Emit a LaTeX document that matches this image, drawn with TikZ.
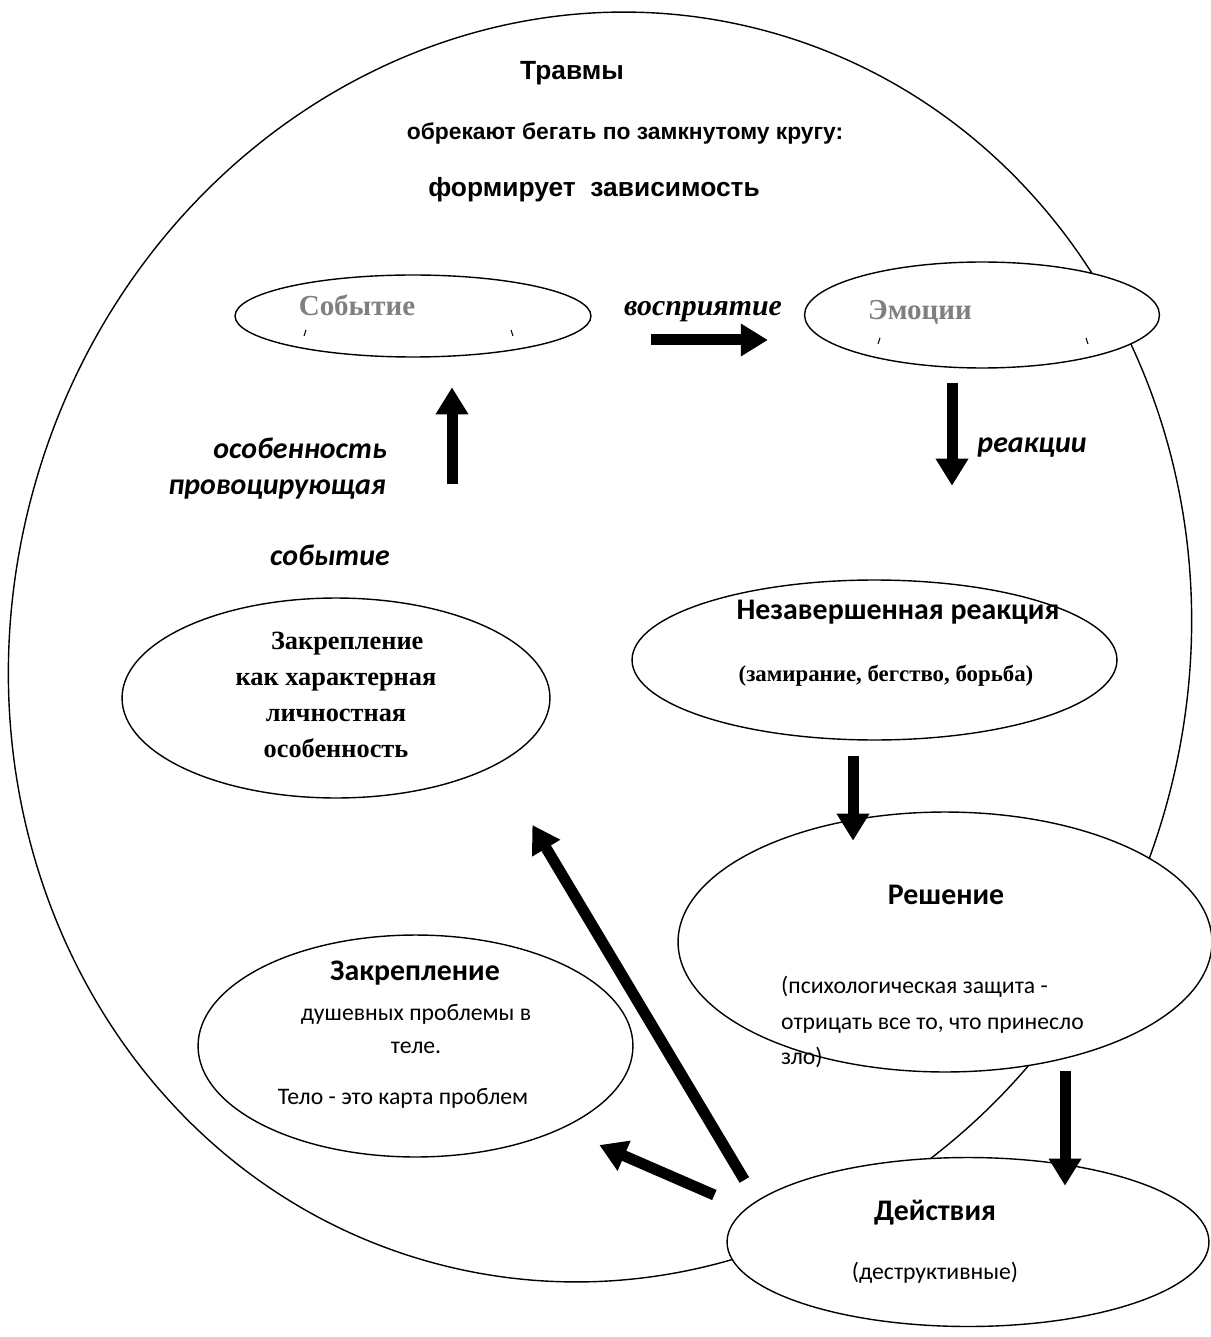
\documentclass[tikz,border=0pt]{standalone}
\usepackage{fontspec}
\setmainfont{Liberation Serif}
\newfontfamily\arialfont{Liberation Sans}
\newfontfamily\calibrifont{Carlito}
\usepackage{tikz}
\usetikzlibrary{shapes.geometric,arrows.meta,calc}

\tikzset{
  oval/.style={ellipse, draw, fill=white, line width=0.8pt, inner sep=0pt},
  fatarrow/.style={line width=0.22cm, -{Triangle[length=0.54cm,width=0.62cm]}},
  headtext/.style={font=\arialfont\bfseries\fontsize{13}{15}\selectfont},
  bighead/.style={font=\arialfont\bfseries\fontsize{15}{17}\selectfont},
  greytext/.style={text=black!50, font=\bfseries\fontsize{16.5}{19}\selectfont},
  slanttext/.style={font=\calibrifont\bfseries\itshape\fontsize{17}{20}\selectfont},
  boldcal/.style={font=\calibrifont\bfseries\fontsize{17}{20}\selectfont},
  plaincal/.style={font=\calibrifont\fontsize{13.5}{20.4}\selectfont},
  boldserif/.style={font=\bfseries\fontsize{13}{16}\selectfont}
}

\begin{document}
\begin{tikzpicture}[x=0.02cm,y=-0.02cm]
  \useasboundingbox (0,0) rectangle (1210,1337);

  % big circle
  \draw[line width=0.8pt, rotate around={-15:(600,647)}] (600,647) ellipse [x radius=588, y radius=638];

  \node[bighead] (travmy) at (572,73) {Травмы};
  \node[headtext] (krug) at (625,134) {обрекают бегать по замкнутому кругу:};
  \node[bighead] (zavis) at (594,190) {формирует\ \ зависимость};

  % ovals
  \node[oval, minimum width=7.12cm, minimum height=1.64cm] (sobytie) at (413,316) {};
  \node[oval, minimum width=7.1cm, minimum height=2.12cm] (emocii) at (982,315) {};
  \node[oval, minimum width=9.7cm, minimum height=3.2cm] (nezav) at (874.5,660) {};
  \node[oval, minimum width=8.56cm, minimum height=4cm] (harakter) at (336,698) {};
  \node[oval, minimum width=10.68cm, minimum height=5.2cm] (reshenie) at (945,942) {};
  \node[oval, minimum width=9.64cm, minimum height=3.38cm] (deistv) at (968,1242) {};
  \node[oval, minimum width=8.7cm, minimum height=4.44cm] (telo) at (415.5,1046) {};

  % texts in ovals
  \node[greytext] (sobytie-t) at ($(sobytie)+(-56,-11)$) {Событие};
  \draw[line width=0.6pt] ($(sobytie)+(-107,14)$) -- ++(-2,6);
  \draw[line width=0.6pt] ($(sobytie)+(98,14)$) -- ++(2,6);
  \node[greytext] (emocii-t) at ($(emocii)+(-62,-3)$) {Эмоции};
  \draw[line width=0.6pt] ($(emocii)+(-102,23)$) -- ++(-2,6);
  \draw[line width=0.6pt] ($(emocii)+(104,23)$) -- ++(2,6);

  \node[boldcal] (nezav-t) at (898,612) {Незавершенная реакция};
  \node[boldserif] (nezav-s) at (886,676) {(замирание, бегство, борьба)};

  \node[boldserif, font=\bfseries\fontsize{15}{20.4}\selectfont, align=center] (harakter-t) at (336,695)
    {\hspace*{0.45cm}Закрепление\\как характерная\\личностная\\особенность};

  \node[boldcal] (reshenie-t) at (946,895) {Решение};
  \node[plaincal, anchor=west, align=left] (reshenie-s) at (775,1022)
    {(психологическая защита -\\отрицать все то, что принесло\\зло)};

  \node[boldcal] (deistv-t) at (935,1213) {Действия};
  \node[plaincal] (deistv-s) at (935,1273) {(деструктивные)};

  \node[boldcal] (telo-t) at (415,973) {Закрепление};
  \node[plaincal, font=\calibrifont\fontsize{13.5}{18.7}\selectfont, align=center] (telo-s) at (416,1029)
    {душевных проблемы в\\теле.};
  \node[plaincal] (telo-k) at (403,1098) {Тело - это карта проблем};

  % arrow labels
  \node[font=\bfseries\itshape\fontsize{17}{20}\selectfont] (vospr) at (703,312) {восприятие};
  \node[slanttext] (reakcii) at (1032,448) {реакции};
  \node[slanttext] (osob1) at (300,448) {особенность};
  \node[slanttext] (osob2) at (277,490) {провоцирующая};
  \node[slanttext] (osob3) at (330,555) {событие};

  % arrows
  \draw[fatarrow] ($(sobytie.east)+(59,24)$) -- ($(emocii.west)+(-36,25)$);
  \draw[fatarrow] ($(emocii.south)+(-30,14)$) -- ++(0,103);
  \draw[fatarrow] ($(harakter.north)+(116,-113)$) -- ++(0,-97);
  \draw[fatarrow] ($(nezav.south)+(-21.5,15)$) -- ++(0,85);
  \draw[fatarrow] ($(reshenie.south)+(120,-2)$) -- ++(0,115);
  \draw[fatarrow] ($(deistv.west)+(-12,-47)$) -- ++(-115,-50);
  \draw[fatarrow] ($(deistv.west)+(18,-62)$) -- ++(-212,-355);
\end{tikzpicture}
\end{document}
